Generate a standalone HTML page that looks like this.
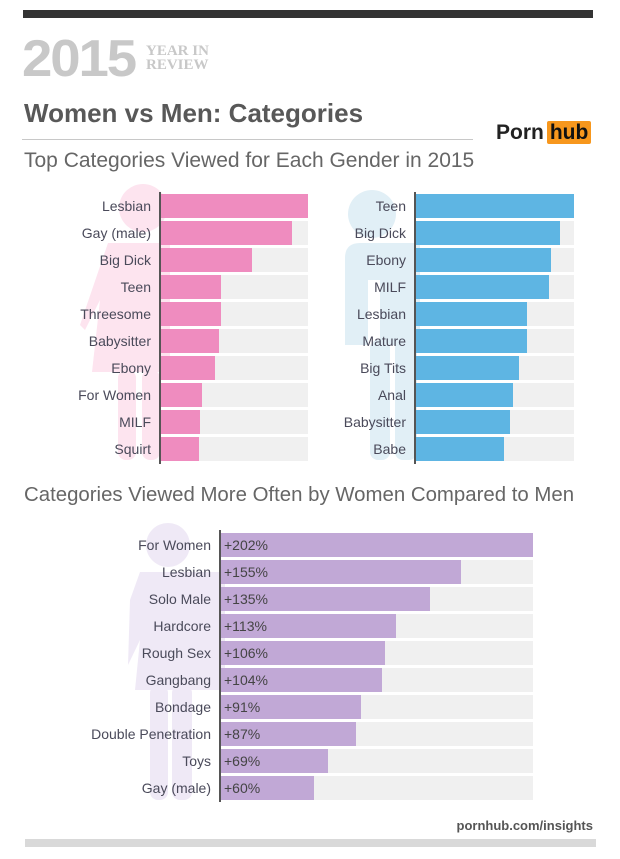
<!DOCTYPE html>
<html><head><meta charset="utf-8"><style>
body{margin:0;background:#fff;width:620px;height:859px;position:relative;overflow:hidden;font-family:"Liberation Sans",sans-serif;}
.a{position:absolute;}
.lab{position:absolute;text-align:right;font-size:14px;color:#4a4a5a;line-height:24px;}
.bg{position:absolute;background:#f0f0f0;height:24px;}
.b{position:absolute;height:24px;}
.pct{position:absolute;font-size:14px;color:#444;line-height:24px;}
</style></head><body>
<svg class="a" style="left:0;top:0" width="620" height="859">
<g fill="#fde4ef">
<circle cx="143" cy="208" r="24"/>
<path d="M108 243 L170 243 L170 372 L92 372 L100 300 L85 330 L80 325 Z"/>
<rect x="118" y="370" width="18" height="90" rx="8"/>
<rect x="142" y="370" width="18" height="90" rx="8"/>
</g>
<g fill="#e1eff6">
<circle cx="372" cy="214" r="24"/>
<path d="M360 243 L420 243 L420 345 L380 345 L380 280 L368 280 L368 345 L345 345 L345 258 Q345 243 360 243Z"/>
<rect x="370" y="340" width="20" height="120" rx="8"/>
<rect x="395" y="340" width="22" height="120" rx="8"/>
</g>
<g fill="#efe9f6">
<circle cx="168" cy="545" r="22"/>
<path d="M140 572 L225 572 L225 690 L135 690 L140 640 L128 665 L130 600 Z"/>
<rect x="150" y="685" width="18" height="115" rx="8"/>
<rect x="172" y="685" width="20" height="115" rx="8"/>
</g>
</svg>
<div class="a" style="left:22px;top:31px;font-size:52px;font-weight:bold;color:#c8c8c8;letter-spacing:-2px;line-height:56px;transform:scaleX(1.05);transform-origin:left">2015</div>
<div class="a" style="left:23px;top:10px;width:570px;height:8px;background:#333"></div>
<div class="a" style="left:146px;top:44px;font-size:15px;font-weight:bold;color:#c8c8c8;font-family:'Liberation Serif',serif;line-height:14px">YEAR IN<br>REVIEW</div>
<div class="a" style="left:24px;top:98px;font-size:26px;font-weight:bold;color:#585858">Women vs Men: Categories</div>
<div class="a" style="left:22px;top:139px;width:451px;height:1px;background:#c8c8c8"></div>
<div class="a" style="left:496px;top:119px;font-size:21px;font-weight:bold;color:#222;line-height:27px">Porn<span style="background:#f7971d;color:#111;padding:0 3px;margin-left:3px;border-radius:2px">hub</span></div>
<div class="a" style="left:24px;top:149px;font-size:21px;color:#666">Top Categories Viewed for Each Gender in 2015</div>
<div class="a" style="left:24px;top:484px;font-size:20.4px;color:#666">Categories Viewed More Often by Women Compared to Men</div>
<div id="c"></div>
<div class="a" style="left:159px;top:192px;width:2px;height:272px;background:#555"></div>
<div class="a" style="left:414px;top:192px;width:2px;height:272px;background:#555"></div>
<div class="a" style="left:219px;top:530px;width:2px;height:272px;background:#555"></div>
<div class="a" style="right:27px;top:818px;font-size:13px;font-weight:bold;color:#555">pornhub.com/insights</div>
<div class="a" style="left:25px;top:839px;width:571px;height:8px;background:#d9d9d9"></div>
<script>
function chart(x0,x1,y0,labR,col,data,pct){var h='';data.forEach(function(d,i){var y=y0+i*27;
h+='<div class="bg" style="left:'+x0+'px;top:'+y+'px;width:'+(x1-x0)+'px"></div>';
h+='<div class="b" style="left:'+x0+'px;top:'+y+'px;width:'+(d[1]-x0)+'px;background:'+col+'"></div>';
h+='<div class="lab" style="right:'+(620-labR)+'px;top:'+y+'px;white-space:nowrap">'+d[0]+'</div>';
if(pct)h+='<div class="pct" style="left:'+(x0+3)+'px;top:'+y+'px">'+d[2]+'</div>';});
document.getElementById('c').insertAdjacentHTML('beforeend',h);}
chart(161,308,194,151,'#ef8cbf',[['Lesbian',308],['Gay (male)',292],['Big Dick',252],['Teen',221],['Threesome',221],['Babysitter',219],['Ebony',215],['For Women',202],['MILF',200],['Squirt',199]]);
chart(416,574,194,406,'#5eb5e3',[['Teen',574],['Big Dick',560],['Ebony',551],['MILF',549],['Lesbian',527],['Mature',527],['Big Tits',519],['Anal',513],['Babysitter',510],['Babe',504]]);
chart(221,533,533,211,'#c1a8d6',[['For Women',533,'+202%'],['Lesbian',461,'+155%'],['Solo Male',430,'+135%'],['Hardcore',396,'+113%'],['Rough Sex',385,'+106%'],['Gangbang',382,'+104%'],['Bondage',361,'+91%'],['Double Penetration',356,'+87%'],['Toys',328,'+69%'],['Gay (male)',314,'+60%']],true);
</script>
</body></html>
